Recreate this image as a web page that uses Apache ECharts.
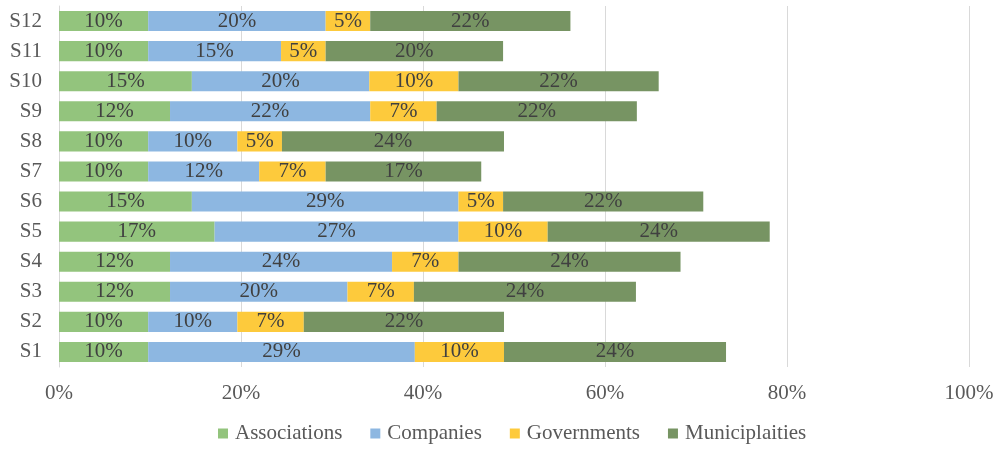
<!DOCTYPE html>
<html>
<head>
<meta charset="utf-8">
<script src="https://cdn.jsdelivr.net/npm/echarts@6/dist/echarts.min.js"></script>
<style>
  html, body { margin: 0; padding: 0; background: #fff; }
  #chart { width: 1003px; height: 451px; }
</style>
</head>
<body>
<div id="chart"></div>
<script>
// Share of each stakeholder group per scenario (percent of all respondents)
const categories = ['S1', 'S2', 'S3', 'S4', 'S5', 'S6', 'S7', 'S8', 'S9', 'S10', 'S11', 'S12'];
const associations   = [9.8, 9.8, 12.2, 12.2, 17.1, 14.6, 9.8, 9.8, 12.2, 14.6, 9.8, 9.8];
const companies      = [29.3, 9.8, 19.5, 24.4, 26.8, 29.3, 12.2, 9.8, 22.0, 19.5, 14.6, 19.5];
const governments    = [9.8, 7.3, 7.3, 7.3, 9.8, 4.9, 7.3, 4.9, 7.3, 9.8, 4.9, 4.9];
const municipalities = [24.4, 22.0, 24.4, 24.4, 24.4, 22.0, 17.1, 24.4, 22.0, 22.0, 19.5, 22.0];
const xTicks = [0, 20, 40, 60, 80, 100];

const FONT = '"Liberation Serif", "DejaVu Serif", serif';
const FS = 21;

function makeSeries(name, data, color) {
  return {
    name: name,
    type: 'bar',
    stack: 'total',
    data: data,
    barCategoryGap: '33%',
    itemStyle: { color: color },
    label: {
      show: true,
      position: 'inside',
      formatter: p => Math.round(p.value) + '%',
      color: '#404040',
      fontFamily: FONT,
      fontSize: FS
    }
  };
}

const chart = echarts.init(document.getElementById('chart'), null, { renderer: 'canvas' });
chart.setOption({
  animation: false,
  backgroundColor: '#fff',
  grid: { left: 59, right: 34, top: 6, bottom: 84, containLabel: false },
  xAxis: {
    type: 'value',
    min: xTicks[0],
    max: xTicks[xTicks.length - 1],
    interval: 20,
    axisLine: { show: false },
    axisTick: { show: false },
    splitLine: { show: true, lineStyle: { color: '#d9d9d9', width: 1 } },
    axisLabel: {
      formatter: v => v + '%',
      color: '#595959',
      fontFamily: FONT,
      fontSize: FS,
      margin: 16
    }
  },
  yAxis: {
    type: 'category',
    data: categories,
    axisLine: { show: true, lineStyle: { color: '#d9d9d9', width: 1 } },
    axisTick: { show: false },
    axisLabel: {
      color: '#595959',
      fontFamily: FONT,
      fontSize: FS,
      margin: 17
    }
  },
  legend: {
    bottom: 2,
    left: 213,
    itemWidth: 10,
    itemHeight: 10,
    itemGap: 28,
    icon: 'rect',
    textStyle: { color: '#595959', fontFamily: FONT, fontSize: FS, padding: [0, 0, 0, 2] },
    data: ['Associations', 'Companies', 'Governments', 'Municiplaities']
  },
  series: [
    makeSeries('Associations', associations, '#93c47d'),
    makeSeries('Companies', companies, '#8db7e1'),
    makeSeries('Governments', governments, '#fdca3c'),
    makeSeries('Municiplaities', municipalities, '#779463')
  ]
});
</script>
</body>
</html>
